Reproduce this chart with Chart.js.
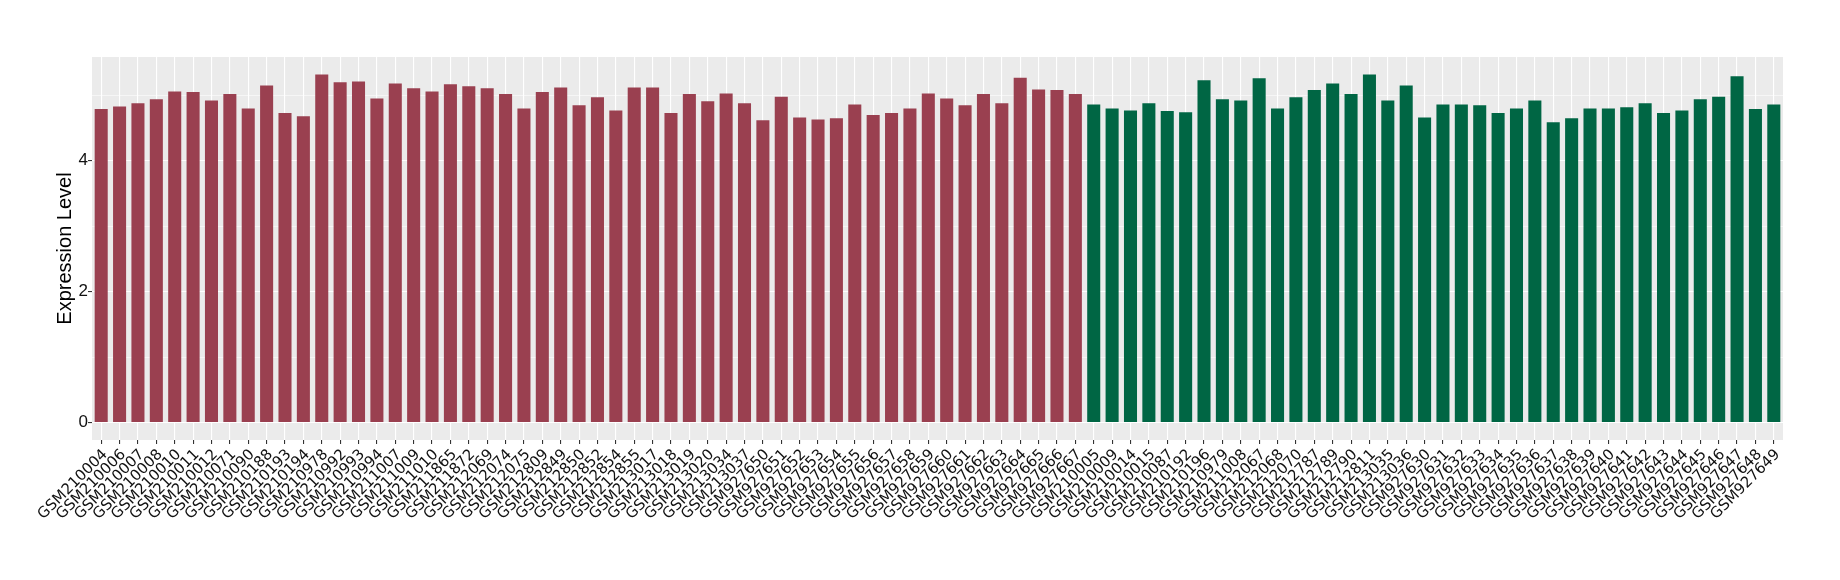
<!DOCTYPE html>
<html>
<head>
<meta charset="utf-8">
<script src="https://cdn.jsdelivr.net/npm/chart.js@4.4.1/dist/chart.umd.min.js"></script>
<style>
  html, body { margin: 0; padding: 0; background: #ffffff; }
  #wrap { width: 1840px; height: 580px; }
</style>
</head>
<body>
<div id="wrap"><canvas id="expr" width="1840" height="580"></canvas></div>
<script>
// ── Samples, group 1 (red) ──
const redSamples = [
  "GSM210004","GSM210006","GSM210007","GSM210008","GSM210010","GSM210011","GSM210012","GSM210071",
  "GSM210090","GSM210188","GSM210193","GSM210194","GSM210978","GSM210992","GSM210993","GSM210994",
  "GSM211007","GSM211009","GSM211010","GSM211865","GSM211872","GSM212069","GSM212074","GSM212075",
  "GSM212809","GSM212849","GSM212850","GSM212852","GSM212854","GSM212855","GSM213017","GSM213018",
  "GSM213019","GSM213020","GSM213034","GSM213037","GSM927650","GSM927651","GSM927652","GSM927653",
  "GSM927654","GSM927655","GSM927656","GSM927657","GSM927658","GSM927659","GSM927660","GSM927661",
  "GSM927662","GSM927663","GSM927664","GSM927665","GSM927666","GSM927667"
];
const redValues = [
  4.79, 4.83, 4.88, 4.94, 5.06, 5.05, 4.92, 5.02,
  4.80, 5.15, 4.73, 4.68, 5.32, 5.20, 5.21, 4.95,
  5.18, 5.11, 5.06, 5.17, 5.14, 5.11, 5.02, 4.80,
  5.05, 5.12, 4.85, 4.97, 4.77, 5.12, 5.12, 4.73,
  5.02, 4.91, 5.03, 4.88, 4.62, 4.98, 4.66, 4.63,
  4.65, 4.86, 4.70, 4.73, 4.80, 5.03, 4.95, 4.85,
  5.02, 4.88, 5.27, 5.09, 5.08, 5.02
];

// ── Samples, group 2 (green) ──
const greenSamples = [
  "GSM210005","GSM210009","GSM210014","GSM210015","GSM210087","GSM210192","GSM210196","GSM210979",
  "GSM211008","GSM212067","GSM212068","GSM212070","GSM212787","GSM212789","GSM212790","GSM212811",
  "GSM213035","GSM213036","GSM927630","GSM927631","GSM927632","GSM927633","GSM927634","GSM927635",
  "GSM927636","GSM927637","GSM927638","GSM927639","GSM927640","GSM927641","GSM927642","GSM927643",
  "GSM927644","GSM927645","GSM927646","GSM927647","GSM927648","GSM927649"
];
const greenValues = [
  4.86, 4.80, 4.77, 4.88, 4.76, 4.74, 5.23, 4.94,
  4.92, 5.26, 4.80, 4.97, 5.08, 5.18, 5.02, 5.32,
  4.92, 5.15, 4.66, 4.86, 4.86, 4.85, 4.73, 4.80,
  4.92, 4.59, 4.65, 4.80, 4.80, 4.82, 4.88, 4.73,
  4.77, 4.94, 4.98, 5.29, 4.79, 4.86
];

// ── Y axis ──
const yTicks  = [0, 1, 2, 3, 4, 5];   // odd ones are minor grid only
const yLabels = [0, 2, 4];

const RED   = "#9A4050";
const GREEN = "#006644";

const samples = redSamples.concat(greenSamples);
const values  = redValues.concat(greenValues);
const colors  = redSamples.map(() => RED).concat(greenSamples.map(() => GREEN));

// grey panel behind the bars (ggplot theme_gray)
const panelBg = {
  id: "panelBg",
  beforeDraw(chart) {
    const a = chart.chartArea;
    const ctx = chart.ctx;
    ctx.save();
    ctx.fillStyle = "#EBEBEB";
    ctx.fillRect(a.left, a.top, a.right - a.left, a.bottom - a.top);
    ctx.restore();
  }
};

const vmax = Math.max(...values);
const pad  = vmax * 0.05;

new Chart(document.getElementById("expr"), {
  type: "bar",
  data: {
    labels: samples,
    datasets: [{
      data: values,
      backgroundColor: colors,
      borderWidth: 0,
      barPercentage: 0.71,
      categoryPercentage: 1.0
    }]
  },
  options: {
    responsive: false,
    animation: false,
    devicePixelRatio: 1,
    layout: { padding: { top: 57, right: 57, left: 0, bottom: 0 } },
    plugins: {
      legend:  { display: false },
      tooltip: { enabled: false }
    },
    scales: {
      x: {
        offset: true,
        border: { display: false },
        grid: {
          offset: false,
          color: "#FFFFFF",
          lineWidth: 1.1,
          tickColor: "#333333",
          tickLength: 4
        },
        ticks: {
          autoSkip: false,
          maxRotation: 45,
          minRotation: 45,
          padding: 2,
          labelOffset: 4,
          color: "#111111",
          font: { family: "DejaVu Sans", size: 15 }
        },
        afterFit(scale) { scale.height = 140; }
      },
      y: {
        min: -pad,
        max: vmax + pad,
        border: { display: false },
        afterBuildTicks(scale) {
          scale.ticks = yTicks.map(v => ({ value: v }));
        },
        grid: {
          color: "#FFFFFF",
          lineWidth: ctx => (ctx.tick && ctx.tick.value % 2 === 0) ? 1.1 : 0.55,
          tickColor: ctx => (ctx.tick && ctx.tick.value % 2 === 0) ? "#333333" : "rgba(0,0,0,0)",
          tickLength: 4
        },
        ticks: {
          padding: 0,
          color: "#111111",
          font: { family: "Liberation Sans", size: 17 },
          callback: v => yLabels.includes(v) ? String(v) : ""
        },
        title: {
          display: true,
          text: "Expression Level",
          color: "#000000",
          font: { family: "Liberation Sans", size: 20 },
          padding: { top: 53, bottom: 0 }
        },
        afterFit(scale) { scale.width = 92; }
      }
    }
  },
  plugins: [panelBg]
});
</script>
</body>
</html>
